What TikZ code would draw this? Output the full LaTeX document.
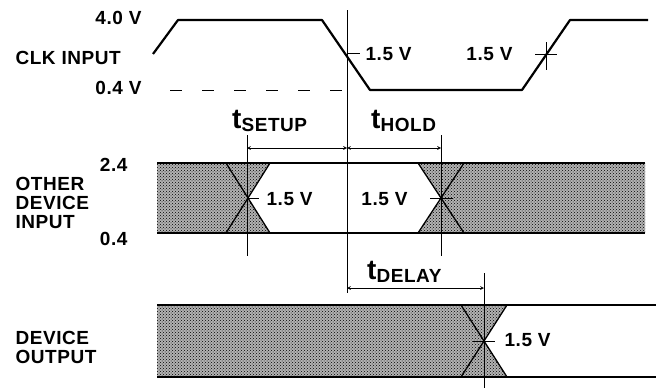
\documentclass[tikz,border=0pt]{standalone}
\usepackage{fontspec}
\setmainfont[LetterSpace=3]{Liberation Sans}
\usetikzlibrary{patterns}
\newcommand{\tlabel}[1]{{\fontsize{28}{28}\selectfont t}\raisebox{-3pt}{#1}}
\begin{document}
\begin{tikzpicture}[x=1pt, y=-1pt, font=\fontsize{19}{19}\selectfont\bfseries, line join=round, >=stealth,
	wave/.style={line width=2.2pt},
	band/.style={line width=2.2pt},
	leg/.style={line width=1.3pt},
	ref/.style={line width=0.8pt},
	dim/.style={line width=0.7pt, <->},
	dots/.style={preaction={fill=black!30}, pattern=crosshatch dots, pattern color=black}]
	\useasboundingbox (0,0) rectangle (656,388);
	% clock input
	\draw[wave] (153,54)--(178,20)--(322,20)--(370,90)--(522,90)--(570,20)--(648,20);
	\draw[line width=1pt, dash pattern=on 12pt off 20pt] (170,90)--(345,90);
	\draw[ref] (347,10)--(347,293);
	\draw[ref] (347,53)--(360,53);
	\draw[ref] (535,54)--(557,54) (546,42)--(546,70);
	\node[anchor=base east] (clkhi) at (145,24) {4.0 V};
	\node[anchor=base west] (clkname) at (12,64) {CLK INPUT};
	\node[anchor=base east] (clklo) at (145,94) {0.4 V};
	\node[anchor=base west] (clkfall) at (362,60) {1.5 V};
	\node[anchor=base east] (clkrise) at (516,60) {1.5 V};
	% other device input
	\fill[dots] (157,163)--(270,163)--(248,198)--(270,233)--(157,233)--cycle;
	\fill[dots] (645,163)--(418,163)--(441,198)--(418,233)--(645,233)--cycle;
	\draw[band] (157,163)--(645,163) (157,233)--(645,233);
	\draw[leg] (226,163)--(270,233) (270,163)--(226,233);
	\draw[leg] (418,163)--(464,233) (464,163)--(418,233);
	\draw[ref] (247,135)--(247,256) (247,198)--(259,198);
	\draw[ref] (441,135)--(441,256) (430,198)--(453,198);
	\node[anchor=base east] (inhi) at (131,171) {2.4};
	\node[anchor=base east] (inlo) at (131,245) {0.4};
	\node[anchor=base west, align=left] (inname) at (12,228) {OTHER\\DEVICE\\INPUT};
	\node[anchor=base west] (insetup) at (263,205) {1.5 V};
	\node[anchor=base east] (inhold) at (411,205) {1.5 V};
	\coordinate (setupL) at (247,148);
	\coordinate (setupR) at (347,148);
	\coordinate (holdR) at (441,148);
	\draw[dim] (setupL)--(setupR);
	\draw[dim] (setupR)--(holdR);
	\node[anchor=base west, inner sep=0pt] (tsetup) at (232,128) {\tlabel{SETUP}};
	\node[anchor=base west, inner sep=0pt] (thold) at (371,128) {\tlabel{HOLD}};
	% device output
	\fill[dots] (157,305)--(507,305)--(484,341)--(507,377)--(157,377)--cycle;
	\draw[band] (157,305)--(656,305) (157,377)--(656,377);
	\draw[leg] (461,305)--(507,377) (507,305)--(461,377);
	\draw[ref] (484,273)--(484,388) (473,341)--(495,341);
	\node[anchor=base west] (outfall) at (501,346) {1.5 V};
	\node[anchor=base west, align=left] (outname) at (12,363) {DEVICE\\OUTPUT};
	\coordinate (delayL) at (347,288);
	\coordinate (delayR) at (484,288);
	\draw[dim] (delayL)--(delayR);
	\node[anchor=base west, inner sep=0pt] (tdelay) at (367,279) {\tlabel{DELAY}};
\end{tikzpicture}
\end{document}
